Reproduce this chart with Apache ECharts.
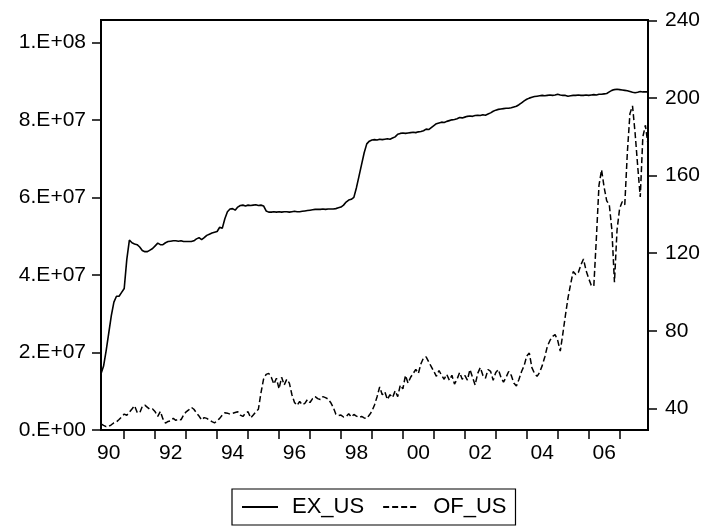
<!DOCTYPE html>
<html><head><meta charset="utf-8">
<script src="https://cdn.jsdelivr.net/npm/echarts@6/dist/echarts.min.js"></script>
<style>html,body{margin:0;padding:0;background:#fff}#c{width:707px;height:527px}</style>
</head><body><div id="c"></div>
<script>
// first observation: 1990M04, monthly
const startYear = 1990, startMonth = 4;
// EX_US, in millions (left axis)
const exUS = [
  14.5, 16.5, 20.5, 25, 29.5, 33, 34.5, 34.5, 35.5,
  36.5, 44, 49, 48.3, 48, 47.8, 47.2, 46.3, 46, 46, 46.4, 46.8,
  47.5, 48.2, 47.8, 47.8, 48.3, 48.6, 48.7, 48.8, 48.8, 48.7, 48.8, 48.6,
  48.6, 48.6, 48.6, 48.8, 49.3, 49.6, 49.1, 49.6, 50.2, 50.5, 50.8, 51,
  51.2, 52.3, 52, 54.5, 56.3, 57, 57.1, 56.7, 57.5, 57.9, 58, 57.8,
  58, 57.9, 58, 58.1, 57.9, 58, 57.8, 56.5, 56.2, 56.2, 56.3, 56.2,
  56.3, 56.2, 56.3, 56.3, 56.2, 56.3, 56.4, 56.3, 56.3, 56.4, 56.5, 56.6,
  56.7, 56.8, 56.9, 56.9, 56.9, 57, 56.9, 57, 57, 57, 57.1, 57.3,
  57.5, 58, 58.8, 59.3, 59.5, 60, 62.5, 65.5, 68.5, 71.5, 73.8, 74.5,
  74.8, 74.9, 74.8, 75, 74.9, 75, 75.1, 75, 75.3, 75.6, 76.3, 76.5,
  76.6, 76.5, 76.6, 76.7, 76.8, 76.7, 76.9, 77, 77.2, 77.6, 77.5, 78,
  78.5, 79, 79.2, 79.4, 79.3, 79.6, 79.8, 80, 80.1, 80.3, 80.6, 80.5,
  80.7, 80.9, 81, 80.9, 81.1, 81.2, 81.1, 81.3, 81.2, 81.5, 81.8, 82.2,
  82.5, 82.7, 82.8, 82.9, 83, 83, 83.1, 83.3, 83.5, 83.9, 84.4, 84.9,
  85.3, 85.6, 85.8, 86, 86.1, 86.2, 86.3, 86.2, 86.3, 86.4, 86.3, 86.4,
  86.6, 86.4, 86.3, 86.3, 86.1, 86.2, 86.3, 86.3, 86.4, 86.3, 86.3, 86.4,
  86.3, 86.4, 86.5, 86.4, 86.6, 86.6, 86.7, 86.8, 87.2, 87.6, 87.8, 87.9,
  87.8, 87.7, 87.6, 87.5, 87.3, 87.1, 87.0, 87.1, 87.3, 87.2, 87.2, 87.2
];
// OF_US (right axis)
const ofUS = [
  32, 31.2, 30.5, 30.6, 31.5, 32.5, 33, 34.2, 35.6,
  37, 36.4, 38, 39.6, 41.3, 38, 37.6, 41, 41.6, 40.5, 39.4, 39.6,
  38.2, 35.8, 38.4, 34.5, 32.4, 33.2, 33.5, 34.8, 33.8, 34.5, 34, 36.5,
  38.2, 39.2, 40.5, 39.5, 37.6, 36, 34, 35.2, 34.8, 34, 33.1, 32.5,
  33.5, 34.8, 36.5, 37.7, 37.5, 37, 37.4, 37.8, 38.2, 36.5, 35.8, 37.5,
  38.2, 35, 36.5, 38.2, 39.5, 48, 55, 57.5, 58, 56, 52.5, 55.5,
  50, 56, 52, 55, 53, 47, 43, 41.5, 43.5, 41.8, 42.5, 44.5,
  43, 45, 46, 45, 44.5, 46, 45.5, 44.8, 43, 40.5, 37, 36.2,
  36.5, 35.5, 35.7, 37.2, 35.5, 36.8, 36, 35.3, 35.8, 35, 34.8, 36.5,
  38.5, 41.7, 46, 51, 47, 48.5, 44.5, 47, 45.5, 49, 46, 52,
  50, 57, 53, 56, 58, 60, 58, 63, 66, 66.5, 64, 61.5,
  59, 56.5, 59.5, 57, 55, 57.5, 54.5, 57, 52.5, 55, 58.5, 55,
  57, 54.5, 60, 56, 52, 58, 61, 57, 55.5, 60, 59, 54.5,
  58.5, 60, 56, 53.5, 56, 59, 57, 53, 51.5, 55, 59, 62,
  67, 68.5, 61, 58, 56.5, 58.5, 62, 66.5, 72, 75, 77, 78,
  75, 69.5, 78.5, 88, 97, 104, 110.5, 109, 110, 114, 117, 111,
  107, 103.5, 103, 128, 155, 163, 154, 147, 145, 132, 105, 132,
  143, 146.5, 145, 172, 192, 196, 182, 165, 149, 180, 186, 176
];
const leftTicks = [0, 20, 40, 60, 80, 100];
const leftTickLabels = ['0.E+00', '2.E+07', '4.E+07', '6.E+07', '8.E+07', '1.E+08'];
const rightTicks = [40, 80, 120, 160, 200, 240];
const xLabelYears = [1990, 1992, 1994, 1996, 1998, 2000, 2002, 2004, 2006];
const seriesNames = ['EX_US', 'OF_US'];

const months = [];
for (let i = 0; i < exUS.length; i++) {
  const k = (startMonth - 1) + i;
  const y = startYear + Math.floor(k / 12);
  const m = (k % 12) + 1;
  months.push(y + 'M' + (m < 10 ? '0' + m : m));
}

const FONT = 'Liberation Sans';
const FS = 21;
const chart = echarts.init(document.getElementById('c'), null, {renderer: 'canvas'});
chart.setOption({
  animation: false,
  backgroundColor: '#fff',
  grid: {left: 101, right: 59, top: 20, bottom: 97, show: true, borderColor: '#000', borderWidth: 2, backgroundColor: 'transparent'},
  legend: {
    data: seriesNames,
    left: 232, top: 489,
    orient: 'horizontal',
    padding: [7, 9, 7, 9],
    borderColor: '#000', borderWidth: 1.2,
    itemWidth: 36, itemHeight: 14, itemGap: 18,
    itemStyle: {opacity: 0},
    textStyle: {fontFamily: FONT, fontSize: 22, color: '#000', padding: [0, 0, 0, 9]}
  },
  xAxis: {
    type: 'category',
    data: months,
    boundaryGap: false,
    axisLine: {show: true, lineStyle: {color: '#000', width: 2}},
    axisTick: {show: true, length: 9, lineStyle: {color: '#000', width: 1.5},
      interval: function (i, v) { return v.slice(5) === '01'; }},
    axisLabel: {
      fontFamily: FONT, fontSize: FS, color: '#000', margin: 13,
      interval: function (i, v) { return v.slice(5) === '07' && xLabelYears.indexOf(+v.slice(0, 4)) >= 0; },
      formatter: function (v) { return v.slice(2, 4); }
    },
    splitLine: {show: false}
  },
  yAxis: [
    {
      type: 'value', position: 'left', min: 0, max: 105.75,
      axisLine: {show: true, lineStyle: {color: '#000', width: 2}},
      axisTick: {show: true, length: 9, lineStyle: {color: '#000', width: 1.5}, customValues: leftTicks},
      axisLabel: {fontFamily: FONT, fontSize: FS, color: '#000', margin: 15, customValues: leftTicks,
        formatter: function (v) { const i = leftTicks.indexOf(v); return i >= 0 ? leftTickLabels[i] : ''; }},
      splitLine: {show: false}
    },
    {
      type: 'value', position: 'right', min: 28.8, max: 240.3,
      axisLine: {show: true, lineStyle: {color: '#000', width: 2}},
      axisTick: {show: true, length: 9, lineStyle: {color: '#000', width: 1.5}, customValues: rightTicks},
      axisLabel: {fontFamily: FONT, fontSize: FS, color: '#000', margin: 17, customValues: rightTicks},
      splitLine: {show: false}
    }
  ],
  series: [
    {name: seriesNames[0], type: 'line', yAxisIndex: 0, data: exUS, symbol: 'none', showSymbol: false,
      color: '#000', lineStyle: {color: '#000', width: 1.6}},
    {name: seriesNames[1], type: 'line', yAxisIndex: 1, data: ofUS, symbol: 'none', showSymbol: false,
      color: '#000', lineStyle: {color: '#000', width: 1.5, type: [6, 3]}}
  ]
});
</script>
</body></html>
